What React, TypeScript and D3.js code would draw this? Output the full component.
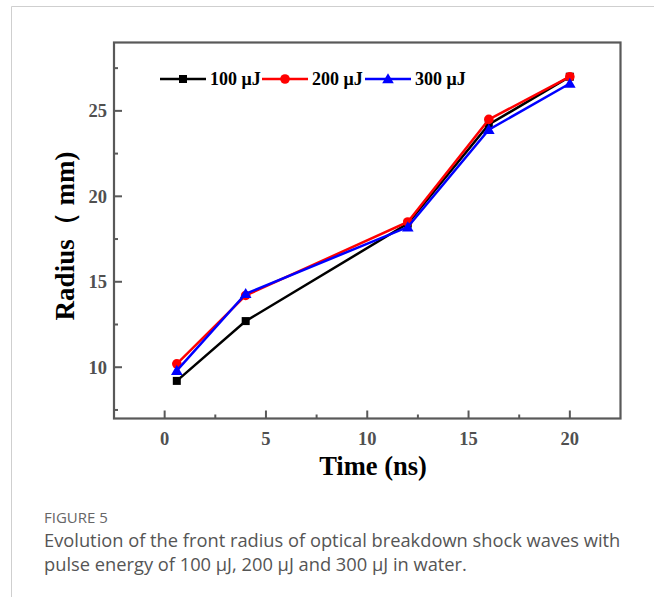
import React from "react";
import * as d3 from "d3";

const times = [0.6, 4, 12, 16, 20];
const series100 = [9.2, 12.7, 18.4, 24.2, 27.0];
const series200 = [10.2, 14.2, 18.5, 24.5, 27.0];
const series300 = [9.8, 14.3, 18.2, 23.9, 26.6];
const seriesNames = ["100 μJ", "200 μJ", "300 μJ"];
const xTicks = [0, 5, 10, 15, 20];
const xMinor = [2.5, 7.5, 12.5, 17.5];
const yTicks = [10, 15, 20, 25];
const yMinor = [7.5, 12.5, 17.5, 22.5, 27.5];

const W = 654, H = 597;
const L = 114, R = 620.5, T = 42.5, B = 418.5;

export default function App() {
  const x = d3.scaleLinear().domain([-2.5, 22.5]).range([L, R]);
  const y = d3.scaleLinear().domain([7, 29]).range([B, T]);
  const line = d3.line<number>().x((_, i) => x(times[i])).y((d) => y(d));
  const axisColor = "#595959";
  const series = [
    { vals: series100, color: "#000000", marker: "square" },
    { vals: series200, color: "#ff0000", marker: "circle" },
    { vals: series300, color: "#0000ff", marker: "triangle" },
  ];
  const marker = (m: string, cx: number, cy: number, color: string, key: string) => {
    if (m === "square") return <rect key={key} x={cx - 4} y={cy - 4} width={8} height={8} fill={color} />;
    if (m === "circle") return <circle key={key} cx={cx} cy={cy} r={4.8} fill={color} />;
    const s = 5.8;
    return <path key={key} d={`M${cx},${cy - s}L${cx + s},${cy + s * 0.75}L${cx - s},${cy + s * 0.75}Z`} fill={color} />;
  };
  const serif = "'Liberation Serif', 'Times New Roman', serif";
  const legendX = [160, 262, 365];
  const legendY = 79;
  return (
    <svg width={W} height={H} style={{ position: "absolute", left: 0, top: 0, background: "#fff" }}>
      <path d={`M11.5,${H}V6.5H${W}`} fill="none" stroke="#cfcfcf" strokeWidth={1} />
      {xTicks.map((t) => (
        <line key={"xt" + t} x1={x(t)} x2={x(t)} y1={B} y2={B - 8} stroke={axisColor} strokeWidth={2} />
      ))}
      {xMinor.map((t) => (
        <line key={"xm" + t} x1={x(t)} x2={x(t)} y1={B} y2={B - 4} stroke={axisColor} strokeWidth={2} />
      ))}
      {yTicks.map((t) => (
        <line key={"yt" + t} x1={L} x2={L + 8} y1={y(t)} y2={y(t)} stroke={axisColor} strokeWidth={2} />
      ))}
      {yMinor.map((t) => (
        <line key={"ym" + t} x1={L} x2={L + 4} y1={y(t)} y2={y(t)} stroke={axisColor} strokeWidth={2} />
      ))}
      <rect x={L} y={T} width={R - L} height={B - T} fill="none" stroke={axisColor} strokeWidth={2.2} />
      {xTicks.map((t) => (
        <text key={"xl" + t} x={x(t)} y={B + 26} textAnchor="middle" fontFamily={serif} fontWeight="bold" fontSize={18.5} fill="#505050">
          {t}
        </text>
      ))}
      {yTicks.map((t) => (
        <text key={"yl" + t} x={L - 7} y={y(t) + 6.5} textAnchor="end" fontFamily={serif} fontWeight="bold" fontSize={18.5} fill="#505050">
          {t}
        </text>
      ))}
      <text x={373} y={475} textAnchor="middle" fontFamily={serif} fontWeight="bold" fontSize={26.5} fill="#000">
        Time (ns)
      </text>
      <text transform={`translate(74,236) rotate(-90)`} textAnchor="middle" fontFamily={serif} fontWeight="bold" fontSize={27} fill="#000">
        Radius（ mm)
      </text>
      {series.map((s, si) => (
        <g key={"s" + si}>
          <path d={line(s.vals) || ""} fill="none" stroke={s.color} strokeWidth={2.5} />
          {s.vals.map((v, i) => marker(s.marker, x(times[i]), y(v), s.color, `m${si}-${i}`))}
        </g>
      ))}
      {series.map((s, si) => (
        <g key={"lg" + si}>
          <line x1={legendX[si]} x2={legendX[si] + 46} y1={legendY} y2={legendY} stroke={s.color} strokeWidth={2.5} />
          {marker(s.marker, legendX[si] + 23, legendY, s.color, "lm" + si)}
          <text x={legendX[si] + 50} y={legendY + 6} fontFamily={serif} fontWeight="bold" fontSize={18} fill="#000">
            {seriesNames[si]}
          </text>
        </g>
      ))}
      <text x={44} y={523} fontFamily="'Open Sans', sans-serif" fontSize={15} fill="#666">
        FIGURE 5
      </text>
      <text x={44} y={547} fontFamily="'Open Sans', sans-serif" fontSize={18.3} fill="#555">
        Evolution of the front radius of optical breakdown shock waves with
      </text>
      <text x={44} y={571} fontFamily="'Open Sans', sans-serif" fontSize={18.3} fill="#555">
        pulse energy of 100 μJ, 200 μJ and 300 μJ in water.
      </text>
    </svg>
  );
}
